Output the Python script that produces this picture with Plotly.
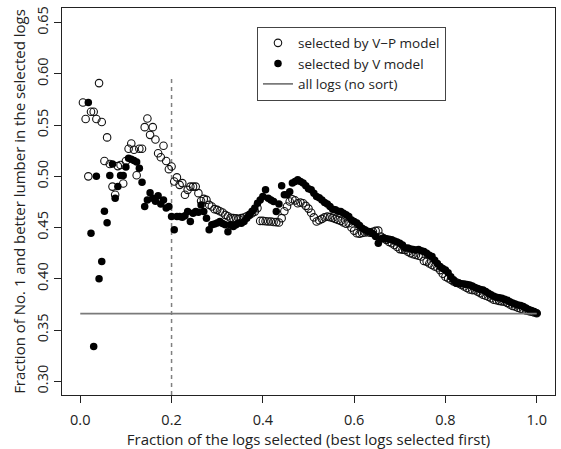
import plotly.graph_objects as go

N_LOGS = 170

# Fraction of No. 1 and better lumber, logs sorted by V-P model (k = 1..170)
vp_model = [
    0.572, 0.556, 0.500, 0.563, 0.563, 0.556, 0.591, 0.553, 0.515, 0.538,
    0.512, 0.490, 0.482, 0.510, 0.511, 0.493, 0.515, 0.527, 0.532, 0.526,
    0.501, 0.527, 0.527, 0.548, 0.5565, 0.5405, 0.548, 0.536, 0.5226, 0.5187,
    0.5298, 0.515, 0.507, 0.5096, 0.495, 0.499, 0.4917, 0.4934, 0.482, 0.4868,
    0.490, 0.490, 0.490, 0.4836, 0.476, 0.478, 0.477, 0.4722, 0.4705, 0.468,
    0.4673, 0.466, 0.4647, 0.4624, 0.461, 0.4595, 0.4592, 0.459, 0.4585, 0.4592,
    0.4598, 0.461, 0.4624, 0.464, 0.4656, 0.469, 0.4565, 0.4565, 0.4562, 0.4559,
    0.4559, 0.4555, 0.4553, 0.4549, 0.4592, 0.466, 0.4705, 0.4754, 0.4777, 0.4765,
    0.4738, 0.4744, 0.4738, 0.4712, 0.4685, 0.4645, 0.460, 0.456, 0.4572, 0.4585,
    0.460, 0.4607, 0.4602, 0.4595, 0.4585, 0.4575, 0.4565, 0.4549, 0.4538, 0.4543,
    0.450, 0.447, 0.4445, 0.444, 0.4448, 0.4452, 0.4455, 0.445, 0.446, 0.4468,
    0.447, 0.4412, 0.4395, 0.438, 0.436, 0.4348, 0.433, 0.431, 0.429, 0.4285,
    0.4282, 0.4265, 0.425, 0.424, 0.4233, 0.4225, 0.4217, 0.4175, 0.4168, 0.415,
    0.4135, 0.412, 0.411, 0.4085, 0.405, 0.402, 0.4006, 0.399, 0.3975, 0.3965,
    0.3955, 0.394, 0.3925, 0.391, 0.3895, 0.389, 0.3888, 0.3875, 0.386, 0.3845,
    0.3835, 0.3826, 0.381, 0.3795, 0.379, 0.3785, 0.378, 0.3777, 0.3765, 0.375,
    0.3735, 0.3729, 0.3718, 0.3708, 0.370, 0.3692, 0.3685, 0.368, 0.3672, 0.3664,
]

# Logs sorted by V model (first two values fall outside the plotted range)
v_model = [
    None, None, 0.572, 0.4445, 0.334, 0.500, 0.400, 0.4168, 0.466, 0.4546,
    0.5008, 0.512, 0.4787, 0.490, 0.5008, 0.5008, 0.509, 0.5176, 0.5168, 0.5154,
    0.5139, 0.508, 0.4943, 0.4705, 0.477, 0.484, 0.4787, 0.4758, 0.481, 0.4731,
    0.477, 0.469, 0.4705, 0.4607, 0.4478, 0.4607, 0.4607, 0.460, 0.4615, 0.4656,
    0.456, 0.464, 0.4656, 0.465, 0.472, 0.4656, 0.4592, 0.4478, 0.4527, 0.4535,
    0.4545, 0.4559, 0.454, 0.4527, 0.446, 0.4526, 0.451, 0.4527, 0.4545, 0.4543,
    0.4559, 0.4592, 0.4624, 0.466, 0.469, 0.4738, 0.477, 0.4803, 0.4868, 0.4787,
    0.477, 0.4754, 0.4656, 0.473, 0.4907, 0.482, 0.482, 0.485, 0.4934, 0.495,
    0.4966, 0.495, 0.4934, 0.4907, 0.488, 0.4868, 0.4836, 0.4803, 0.479, 0.477,
    0.4744, 0.473, 0.4705, 0.468, 0.4673, 0.466, 0.4656, 0.464, 0.4624, 0.4607,
    0.4575, 0.456, 0.4545, 0.452, 0.4494, 0.448, 0.4465, 0.446, 0.444, 0.4412,
    0.4348, 0.439, 0.4397, 0.439, 0.4385, 0.438, 0.437, 0.436, 0.4348, 0.433,
    0.430, 0.430, 0.429, 0.4285, 0.428, 0.4285, 0.4275, 0.4266, 0.425, 0.423,
    0.4217, 0.418, 0.415, 0.412, 0.410, 0.4087, 0.406, 0.402, 0.399, 0.3957,
    0.3955, 0.3952, 0.395, 0.3945, 0.394, 0.393, 0.3915, 0.3905, 0.3895, 0.389,
    0.3875, 0.386, 0.3845, 0.383, 0.382, 0.3815, 0.381, 0.380, 0.379, 0.3775,
    0.3765, 0.3755, 0.3745, 0.374, 0.373, 0.3715, 0.370, 0.369, 0.368, 0.3664,
]

fraction_selected = [k / N_LOGS for k in range(1, N_LOGS + 1)]

all_logs_level = 0.366
all_logs_x = [0.0, 1.0]
cutoff_x = 0.2
cutoff_top = 0.595

y_range = [0.2866, 0.6643]
x_range = [-0.04, 1.04]
y_ticks = [0.30, 0.35, 0.40, 0.45, 0.50, 0.55, 0.60, 0.65]
x_ticks = [0.0, 0.2, 0.4, 0.6, 0.8, 1.0]

FONT = "Open Sans"
TXT = "#222222"

fig = go.Figure()

fig.add_trace(go.Scatter(
    x=[cutoff_x, cutoff_x], y=[y_range[0], cutoff_top], mode="lines",
    line=dict(color="#808080", width=1.5, dash="4px,4px"),
    showlegend=False, hoverinfo="skip"))

fig.add_trace(go.Scatter(
    x=fraction_selected, y=vp_model, mode="markers",
    name="selected by V\u2212P model",
    marker=dict(symbol="circle-open", size=7.5, color="#111111", line=dict(width=1.1))))

fig.add_trace(go.Scatter(
    x=fraction_selected, y=v_model, mode="markers",
    name="selected by V model",
    marker=dict(symbol="circle", size=7.5, color="#000000")))

fig.add_trace(go.Scatter(
    x=all_logs_x, y=[all_logs_level, all_logs_level], mode="lines",
    name="all logs (no sort)",
    line=dict(color="#7a7a7a", width=1.8)))

axis_common = dict(
    showline=True, linecolor="#222222", linewidth=1, mirror=True,
    ticks="outside", ticklen=7, tickcolor="#222222", tickwidth=1,
    showgrid=False, zeroline=False,
    tickfont=dict(family=FONT, size=14.5, color=TXT),
    title_font=dict(family=FONT, size=15, color=TXT),
)

fig.update_xaxes(
    range=x_range, tickvals=x_ticks, tickformat=".1f",
    ticklabelstandoff=5,
    title_text="Fraction of the logs selected (best logs selected first)",
    title_standoff=4, **axis_common)
fig.update_yaxes(
    range=y_range, tickvals=y_ticks, tickformat=".2f", tickangle=-90,
    title_text="Fraction of No. 1 and better lumber in the selected logs",
    title_standoff=3, **axis_common)

fig.update_layout(
    width=561, height=449,
    margin=dict(l=62, r=6, t=8, b=54, autoexpand=False),
    paper_bgcolor="white", plot_bgcolor="white",
    font=dict(family=FONT, size=13, color=TXT),
    legend=dict(
        x=0.3955, y=0.952, xanchor="left", yanchor="top",
        bordercolor="#444444", borderwidth=1, bgcolor="white",
        font=dict(family=FONT, size=13.5, color=TXT),
        itemwidth=30, tracegroupgap=0,
    ),
)

fig.write_html("out.html")
